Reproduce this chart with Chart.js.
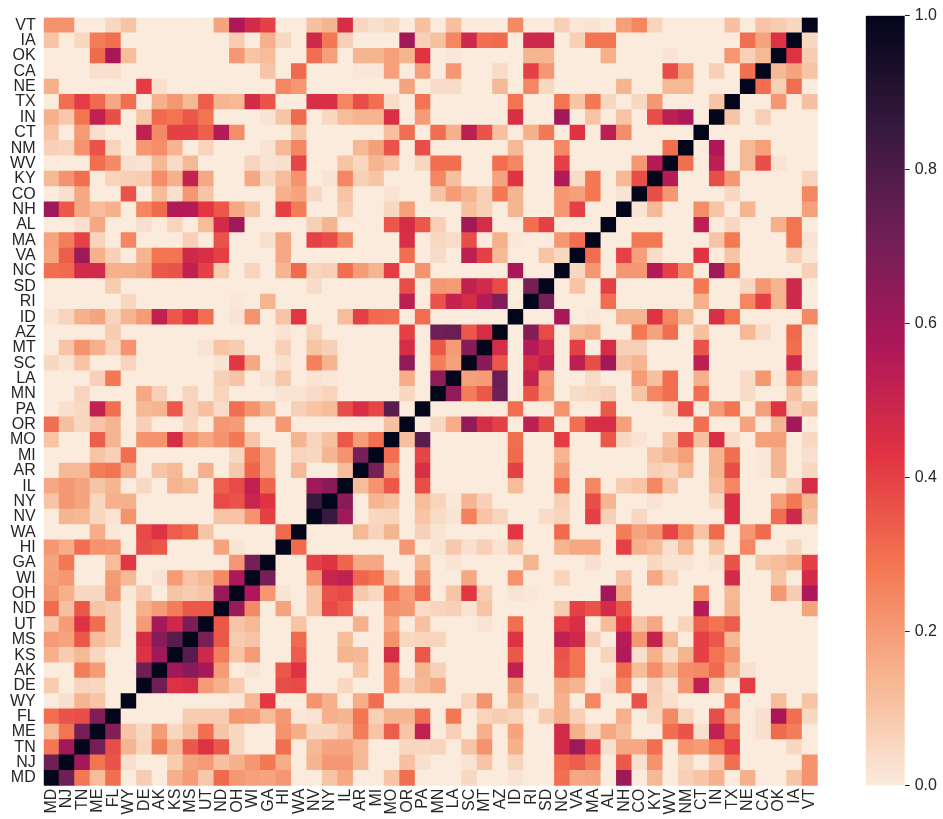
<!DOCTYPE html>
<html>
<head>
<meta charset="utf-8">
<script src="https://cdn.jsdelivr.net/npm/chart.js@4.4.1/dist/chart.umd.min.js"></script>
<style>
  html, body { margin: 0; padding: 0; background: #ffffff; }
  #wrap { position: relative; width: 943px; height: 819px; }
  #wrap canvas { position: absolute; left: 0; top: 0; }
</style>
</head>
<body>
<div id="wrap">
  <canvas id="heatChart" width="943" height="819"></canvas>
  <canvas id="cbarChart" width="943" height="819"></canvas>
</div>
<script>
// state order, used for both axes (y runs bottom -> top)
const states = ['MD','NJ','TN','ME','FL','WY','DE','AK','KS','MS','UT','ND','OH','WI','GA','HI','WA',
  'NV','NY','IL','AR','MI','MO','OR','PA','MN','LA','SC','MT','AZ','ID','RI','SD','NC',
  'VA','MA','AL','NH','CO','KY','WV','NM','CT','IN','TX','NE','CA','OK','IA','VT'];

// lower triangle of the correlation matrix: row k holds corr(states[k], states[0..k-1])
const corrRows = [
  [],
  [0.72],
  [0.28, 0.6],
  [0.12, 0.29, 0.7],
  [0.3, 0.36, 0.37, 0.67],
  [0, 0.03, 0.14, 0.1, 0],
  [0.08, 0, 0.06, 0.05, 0, 0],
  [0, 0, 0.27, 0.2, 0, 0, 0.72],
  [0.15, 0.08, 0.13, 0.05, 0, 0, 0.44, 0.6],
  [0.2, 0.18, 0.35, 0.12, 0.08, 0, 0.46, 0.66, 0.78],
  [0.09, 0.2, 0.44, 0.3, 0.08, 0, 0.2, 0.59, 0.48, 0.69],
  [0.31, 0.11, 0.35, 0.1, 0.08, 0, 0.15, 0.2, 0.27, 0.35, 0.35],
  [0.21, 0.15, 0.05, 0.05, 0.21, 0.01, 0.08, 0, 0.1, 0.08, 0.1, 0.62],
  [0.19, 0.21, 0, 0, 0.2, 0.13, 0, 0.02, 0.2, 0.1, 0.13, 0.24, 0.57],
  [0.18, 0.28, 0, 0, 0.12, 0.42, 0, 0, 0, 0, 0, 0, 0.21, 0.7],
  [0.21, 0.16, 0.3, 0.22, 0.21, 0, 0.37, 0.35, 0, 0, 0, 0.18, 0.02, 0, 0],
  [0, 0, 0, 0.16, 0.01, 0, 0.38, 0.44, 0.34, 0.31, 0.1, 0, 0, 0, 0, 0.31],
  // NV
  [0, 0.14, 0.13, 0.05, 0.02, 0.22, 0, 0, 0, 0, 0, 0.1, 0.1, 0.22, 0.4, 0, 0],
  // NY
  [0.1, 0.21, 0.18, 0.05, 0.15, 0.15, 0, 0, 0, 0, 0, 0.38, 0.36, 0.5, 0.43, 0, 0,
   0.85],
  // IL
  [0.17, 0.21, 0.18, 0.1, 0.14, 0, 0.05, 0, 0.14, 0.12, 0, 0.34, 0.38, 0.52, 0.32, 0, 0,
   0.6, 0.65],
  // AR
  [0, 0.13, 0.13, 0.27, 0.29, 0.16, 0, 0.1, 0.13, 0, 0.15, 0, 0.09, 0.32, 0.17, 0, 0.13,
   0, 0, 0.12],
  // MI
  [0, 0, 0, 0.1, 0.07, 0.3, 0, 0, 0, 0, 0, 0, 0.05, 0.29, 0.17, 0, 0.06,
   0.05, 0.14, 0.22, 0.7],
  // MO
  [0.1, 0, 0, 0.34, 0.14, 0, 0.22, 0.22, 0.46, 0.22, 0.17, 0.22, 0.28, 0.1, 0, 0, 0.14,
   0.06, 0.11, 0.35, 0.2, 0.3],
  // OR
  [0.3, 0.11, 0.05, 0.1, 0.14, 0, 0.07, 0, 0, 0.05, 0, 0.21, 0.2, 0, 0, 0.21, 0,
   0, 0, 0, 0, 0, 0.11],
  // PA
  [0, 0.03, 0.05, 0.52, 0.3, 0, 0.13, 0.14, 0.35, 0.06, 0.11, 0.04, 0.3, 0.22, 0.14, 0, 0.07,
   0.1, 0.12, 0.37, 0.45, 0.39, 0.77, 0],
  // MN
  [0, 0, 0.06, 0, 0, 0, 0.17, 0.07, 0, 0.06, 0, 0.06, 0, 0, 0, 0.02, 0.02,
   0.04, 0.06, 0, 0, 0, 0, 0.05, 0],
  // LA
  [0, 0, 0, 0.07, 0.28, 0, 0, 0, 0, 0, 0, 0.07, 0.1, 0, 0.02, 0.09, 0,
   0.02, 0.01, 0, 0, 0, 0, 0.16, 0, 0.64],
  // SC
  [0.05, 0.02, 0.1, 0, 0, 0.06, 0, 0, 0, 0, 0, 0.02, 0.42, 0.17, 0, 0.03, 0,
   0.26, 0.14, 0, 0, 0, 0, 0.64, 0, 0.27, 0.19],
  // MT
  [0, 0.1, 0.22, 0.15, 0.06, 0.22, 0, 0, 0, 0, 0.02, 0.1, 0.08, 0, 0, 0.07, 0,
   0.1, 0.07, 0, 0, 0, 0, 0.46, 0, 0.35, 0.2, 0.66],
  // AZ
  [0, 0, 0, 0, 0.08, 0, 0, 0, 0, 0, 0, 0, 0, 0, 0, 0.02, 0,
   0.06, 0, 0, 0, 0, 0, 0.4, 0, 0.72, 0.73, 0.35, 0.46],
  // ID
  [0.02, 0.06, 0.15, 0.18, 0.06, 0.14, 0.2, 0.52, 0.35, 0.44, 0.3, 0, 0.02, 0.22, 0, 0.1, 0.42,
   0, 0, 0.12, 0.4, 0.31, 0.3, 0, 0.3, 0, 0, 0, 0, 0],
  // RI
  [0, 0, 0, 0, 0, 0.05, 0, 0, 0, 0, 0, 0, 0.01, 0, 0.14, 0, 0,
   0, 0, 0, 0, 0, 0, 0.53, 0, 0.36, 0.51, 0.46, 0.55, 0.67, 0],
  // SD
  [0, 0, 0, 0, 0.08, 0, 0, 0, 0, 0, 0, 0, 0, 0, 0, 0, 0,
   0.04, 0, 0, 0, 0, 0, 0.37, 0, 0.21, 0.2, 0.52, 0.47, 0.38, 0, 0.7],
  // NC
  [0.3, 0.31, 0.47, 0.47, 0.15, 0.15, 0.17, 0.35, 0.36, 0.52, 0.4, 0.08, 0, 0.06, 0, 0.14, 0.31,
   0.06, 0.07, 0.3, 0.2, 0.14, 0.41, 0, 0.22, 0, 0, 0, 0, 0, 0.58, 0, 0],
  // VA
  [0.17, 0.34, 0.61, 0.15, 0.07, 0, 0.14, 0.29, 0.29, 0.48, 0.45, 0.4, 0, 0, 0, 0.17, 0,
   0, 0, 0, 0, 0, 0, 0.3, 0, 0.04, 0, 0.53, 0.4, 0.13, 0, 0, 0.1, 0.05],
  // MA
  [0.18, 0.27, 0.4, 0.06, 0, 0.25, 0, 0, 0, 0.07, 0, 0.36, 0, 0, 0.03, 0.17, 0,
   0.4, 0.37, 0.25, 0, 0, 0, 0.45, 0, 0.05, 0.04, 0.37, 0, 0.15, 0.01, 0, 0, 0.21,
   0.3],
  // AL
  [0, 0, 0.03, 0.17, 0, 0, 0.03, 0, 0.06, 0, 0.12, 0.47, 0.6, 0, 0, 0, 0,
   0.07, 0.14, 0, 0, 0, 0.35, 0.46, 0.35, 0.07, 0, 0.6, 0.46, 0, 0, 0.3, 0.4, 0,
   0, 0],
  // NH
  [0.61, 0.35, 0.17, 0.12, 0.15, 0, 0.25, 0.31, 0.56, 0.55, 0.42, 0.35, 0.17, 0.1, 0, 0.4, 0.27,
   0, 0, 0.08, 0, 0, 0.05, 0.19, 0, 0, 0, 0.11, 0.07, 0, 0.14, 0, 0, 0.21,
   0.4, 0, 0],
  // CO
  [0, 0.03, 0.17, 0, 0, 0.36, 0, 0.12, 0.03, 0.21, 0.1, 0, 0, 0, 0, 0.15, 0.18,
   0.05, 0, 0.1, 0, 0, 0.02, 0, 0, 0.1, 0.2, 0.14, 0.07, 0.28, 0.14, 0, 0, 0.21,
   0.19, 0.28, 0, 0.02],
  // KY
  [0.13, 0.22, 0.3, 0, 0.06, 0.07, 0.08, 0.23, 0.15, 0.51, 0.17, 0, 0, 0.17, 0.05, 0.12, 0.22,
   0, 0.02, 0.25, 0.07, 0.1, 0, 0, 0, 0.25, 0.11, 0, 0, 0.18, 0.43, 0, 0, 0.56,
   0.04, 0.28, 0, 0.13, 0.37],
  // WV
  [0, 0, 0, 0.3, 0.24, 0.03, 0.02, 0.13, 0.04, 0.13, 0, 0, 0, 0.06, 0.02, 0.03, 0.39,
   0, 0, 0.1, 0.05, 0.14, 0.1, 0, 0.05, 0.3, 0.3, 0, 0, 0.3, 0.25, 0, 0, 0.4,
   0, 0, 0, 0, 0.21, 0.55],
  // NM
  [0.07, 0.06, 0.22, 0.36, 0.06, 0, 0.21, 0.23, 0.14, 0, 0.06, 0, 0, 0, 0.02, 0.13, 0.25,
   0, 0, 0, 0.13, 0.19, 0.36, 0, 0.37, 0, 0, 0, 0, 0, 0.13, 0, 0, 0.25,
   0, 0, 0, 0, 0, 0, 0.3],
  // CT
  [0.1, 0, 0.2, 0.03, 0, 0, 0.52, 0.24, 0.4, 0.4, 0.33, 0.55, 0.23, 0, 0, 0, 0.1,
   0, 0, 0, 0, 0, 0.11, 0.3, 0, 0.3, 0.15, 0.53, 0.36, 0.11, 0, 0.15, 0.28, 0,
   0.43, 0, 0.53, 0.23, 0, 0, 0, 0],
  // IN
  [0.15, 0.09, 0.29, 0.52, 0.37, 0, 0.1, 0.31, 0.29, 0.35, 0.29, 0, 0, 0, 0.02, 0.1, 0.31,
   0, 0.05, 0.12, 0.14, 0.14, 0.45, 0, 0.2, 0, 0, 0, 0, 0, 0.45, 0, 0, 0.6,
   0, 0.1, 0, 0.1, 0, 0.37, 0.53, 0.57, 0],
  // TX
  [0, 0.3, 0.41, 0.31, 0.17, 0.3, 0, 0.15, 0.21, 0.13, 0.34, 0.14, 0.13, 0.47, 0.36, 0, 0,
   0.45, 0.45, 0.25, 0.37, 0.3, 0.04, 0, 0.29, 0, 0, 0, 0, 0, 0.29, 0, 0, 0.29,
   0.1, 0.28, 0.05, 0, 0.05, 0.21, 0, 0, 0, 0.1],
  // NE
  [0.15, 0, 0, 0, 0, 0, 0.41, 0.03, 0, 0, 0, 0, 0, 0, 0, 0.25, 0.21,
   0, 0, 0, 0, 0, 0, 0.18, 0, 0.04, 0.04, 0, 0, 0.13, 0, 0.25, 0.05, 0,
   0, 0, 0, 0.14, 0, 0, 0.13, 0.13, 0, 0, 0],
  // CA
  [0, 0, 0, 0.03, 0.03, 0, 0, 0, 0, 0, 0, 0, 0, 0, 0.1, 0, 0.31,
   0, 0, 0, 0.01, 0.01, 0.19, 0, 0.19, 0, 0.21, 0, 0, 0.04, 0, 0.4, 0.21, 0,
   0, 0, 0, 0, 0, 0, 0.37, 0.19, 0, 0.07, 0, 0.3],
  // OK
  [0, 0, 0, 0.31, 0.58, 0.12, 0, 0, 0, 0, 0, 0, 0.21, 0.1, 0.12, 0, 0,
   0.3, 0.19, 0, 0.14, 0.14, 0.19, 0.14, 0.43, 0, 0.01, 0, 0, 0, 0, 0.14, 0.14, 0,
   0, 0, 0.15, 0, 0, 0, 0.02, 0, 0, 0, 0.21, 0.07, 0.13],
  // IA
  [0.1, 0, 0.05, 0.27, 0.3, 0, 0, 0, 0, 0, 0, 0, 0.08, 0, 0.15, 0.05, 0,
   0.48, 0.28, 0.07, 0, 0, 0, 0.6, 0.07, 0.11, 0.25, 0.48, 0.3, 0.31, 0, 0.48, 0.48, 0,
   0.07, 0.29, 0.29, 0, 0, 0, 0, 0, 0, 0, 0, 0.3, 0.18, 0.44],
  // VT
  [0.22, 0.22, 0, 0, 0.05, 0.1, 0, 0, 0, 0, 0, 0.18, 0.57, 0.47, 0.4, 0, 0,
   0.11, 0.14, 0.46, 0.05, 0.03, 0.05, 0, 0.11, 0, 0.11, 0, 0, 0, 0.24, 0, 0, 0.07,
   0.01, 0.02, 0, 0.19, 0.25, 0.06, 0, 0, 0, 0, 0.11, 0, 0.1, 0.08, 0.05]
];

const cbarTicks = [0, 0.2, 0.4, 0.6, 0.8, 1.0];

// seaborn "rocket" reversed: 0 -> cream, 1 -> near black
const rocketR = [
  [0, '#faebdd'], [1/7, '#f6b48f'], [2/7, '#f37651'], [3/7, '#e13342'],
  [4/7, '#ad1759'], [5/7, '#701f57'], [6/7, '#35193e'], [1, '#03051a']
];

function hexToRgb(h){
  return [parseInt(h.slice(1,3),16), parseInt(h.slice(3,5),16), parseInt(h.slice(5,7),16)];
}

function colorFor(v){
  v = Math.max(0, Math.min(1, v || 0));
  for (let k = 1; k < rocketR.length; k++) {
    if (v <= rocketR[k][0]) {
      const [p0, c0] = rocketR[k-1], [p1, c1] = rocketR[k];
      const t = (v - p0) / (p1 - p0);
      const a = hexToRgb(c0), b = hexToRgb(c1);
      const rgb = a.map((x, n) => Math.round(x + (b[n] - x) * t));
      return `rgb(${rgb[0]},${rgb[1]},${rgb[2]})`;
    }
  }
  return rocketR[rocketR.length-1][1];
}

// full symmetric matrix from the triangle
function corr(r, c){
  if (r === c) return 1;
  return r > c ? corrRows[r][c] : corrRows[c][r];
}

const tickFont = { family: "'Liberation Sans', Arial, sans-serif", size: 16 };
const tickColor = '#262626';

// ------------------ Heatmap ------------------
const heatCtx = document.getElementById('heatChart').getContext('2d');
new Chart(heatCtx, {
    type: 'bar',
    data: {
        labels: states,
        datasets: states.map((rowName, r) => ({
            label: rowName,
            data: states.map(() => [r, r + 1]),
            backgroundColor: states.map((colName, c) => colorFor(corr(r, c))),
            borderWidth: 0,
            barPercentage: 1,
            categoryPercentage: 1,
            inflateAmount: 0.4,
            grouped: false
        }))
    },
    options: {
        responsive: false,
        animation: false,
        layout: { padding: { left: 0, top: 15.7, right: 125.3, bottom: 0 } },
        plugins: { legend: { display: false }, tooltip: { enabled: false } },
        scales: {
            x: {
                grid: { display: false, drawTicks: false },
                border: { display: false },
                ticks: { autoSkip: false, minRotation: 90, maxRotation: 90, padding: 3, font: tickFont, color: tickColor },
                afterFit: s => { s.height = 33.3; }
            },
            y: {
                min: 0, max: states.length,
                grid: { display: false, drawTicks: false },
                border: { display: false },
                afterBuildTicks: s => { s.ticks = states.map((n, k) => ({ value: k + 0.5 })); },
                ticks: { autoSkip: false, padding: 8, font: tickFont, color: tickColor,
                         callback: v => states[Math.floor(v)] },
                afterFit: s => { s.width = 43.7; }
            }
        }
    }
});

// ------------------ Colour bar ------------------
const cbarCtx = document.getElementById('cbarChart').getContext('2d');
new Chart(cbarCtx, {
    type: 'bar',
    data: {
        labels: ['corr'],
        datasets: [{
            data: [[cbarTicks[0], cbarTicks[cbarTicks.length - 1]]],
            backgroundColor: ctx => {
                const area = ctx.chart.chartArea;
                if (!area) return '#faebdd';
                const g = ctx.chart.ctx.createLinearGradient(0, area.bottom, 0, area.top);
                rocketR.forEach(([p, c]) => g.addColorStop(p, c));
                return g;
            },
            borderWidth: 0,
            barPercentage: 1,
            categoryPercentage: 1
        }]
    },
    options: {
        responsive: false,
        animation: false,
        layout: { padding: { left: 865.7, top: 15.7, right: 0, bottom: 33.3 } },
        plugins: { legend: { display: false }, tooltip: { enabled: false } },
        scales: {
            x: { display: false },
            y: {
                position: 'right',
                min: 0, max: 1,
                border: { display: false },
                grid: { display: true, drawOnChartArea: false, drawTicks: true, tickLength: 5, color: tickColor, lineWidth: 1 },
                afterBuildTicks: s => { s.ticks = cbarTicks.map(v => ({ value: v })); },
                ticks: { padding: 5, font: tickFont, color: tickColor, callback: v => v.toFixed(1) },
                afterFit: s => { s.width = 38.3; }
            }
        }
    }
});
</script>
</body>
</html>
